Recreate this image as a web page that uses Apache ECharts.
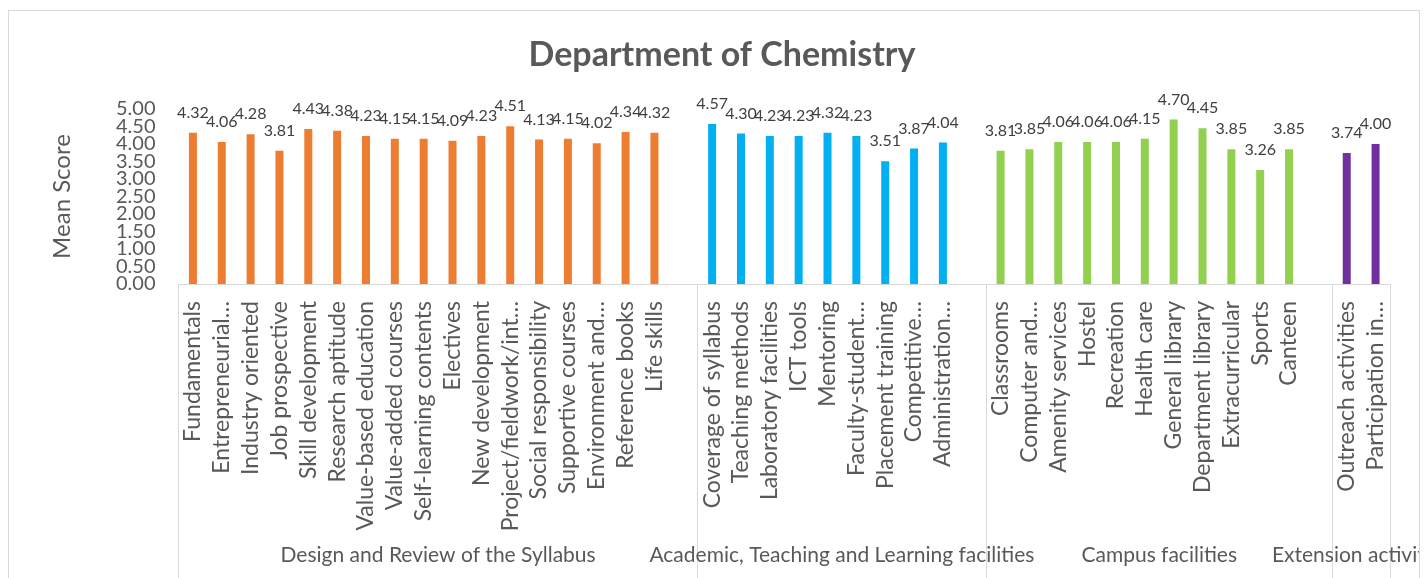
<!DOCTYPE html>
<html>
<head>
<meta charset="utf-8">
<script src="https://cdn.jsdelivr.net/npm/echarts@6/dist/echarts.min.js"></script>
<style>
  html, body { margin: 0; padding: 0; background: #fff; width: 1424px; height: 578px; overflow: hidden; }
  #chart { position: absolute; left: 0; top: 0; width: 1419px; height: 578px; }
  #frame { position: absolute; left: 8px; top: 10px; width: 1410px; height: 600px; border: 1px solid #d9d9d9; pointer-events: none; }
</style>
</head>
<body>
<div id="chart"></div>
<div id="frame"></div>
<script>
const title = 'Department of Chemistry';
const yAxisName = 'Mean Score';
const groupNames = ['Design and Review of the Syllabus', 'Academic, Teaching and Learning facilities', 'Campus facilities', 'Extension activities'];
const groupColors = ['#ED7D31', '#00B0F0', '#92D050', '#7030A0'];

const syllabusItems = ['Fundamentals', 'Entrepreneurial…', 'Industry oriented', 'Job prospective', 'Skill development', 'Research aptitude', 'Value-based education', 'Value-added courses', 'Self-learning contents', 'Electives', 'New development', 'Project/fieldwork/int…', 'Social responsibility', 'Supportive courses', 'Environment and…', 'Reference books', 'Life skills'];
const syllabusValues = [4.32, 4.06, 4.28, 3.81, 4.43, 4.38, 4.23, 4.15, 4.15, 4.09, 4.23, 4.51, 4.13, 4.15, 4.02, 4.34, 4.32];

const academicItems = ['Coverage of syllabus', 'Teaching methods', 'Laboratory facilities', 'ICT tools', 'Mentoring', 'Faculty-student…', 'Placement training', 'Competitive…', 'Administration…'];
const academicValues = [4.57, 4.30, 4.23, 4.23, 4.32, 4.23, 3.51, 3.87, 4.04];

const campusItems = ['Classrooms', 'Computer and…', 'Amenity services', 'Hostel', 'Recreation', 'Health care', 'General library', 'Department library', 'Extracurricular', 'Sports', 'Canteen'];
const campusValues = [3.81, 3.85, 4.06, 4.06, 4.06, 4.15, 4.70, 4.45, 3.85, 3.26, 3.85];

const extensionItems = ['Outreach activities', 'Participation in…'];
const extensionValues = [3.74, 4.00];

const yTicks = [0, 0.5, 1, 1.5, 2, 2.5, 3, 3.5, 4, 4.5, 5];

// Build flat category list with a blank row after each group (except the last)
const groupItems = [syllabusItems, academicItems, campusItems, extensionItems];
const groupValues = [syllabusValues, academicValues, campusValues, extensionValues];
const categories = [];
const seriesData = [];
const boundaries = [0];
const centers = [];
const centerNames = {};
groupItems.forEach((items, g) => {
  const start = categories.length;
  items.forEach((name, i) => {
    categories.push(name);
    seriesData.push({ value: groupValues[g][i], itemStyle: { color: groupColors[g] } });
  });
  if (g < groupItems.length - 1) {
    categories.push('');
    seriesData.push({ value: null });
  }
  const end = categories.length;
  boundaries.push(end);
  const c = (start + end) / 2;
  centers.push(c);
  centerNames[c] = groupNames[g];
});

// Tick labels are tightly packed; split them over two overlapping axes so none get hidden
const yTicksA = yTicks.filter((_, i) => i % 2 === 0);
const yTicksB = yTicks.filter((_, i) => i % 2 === 1);
const yMin = yTicks[0], yMax = yTicks[yTicks.length - 1];

const chart = echarts.init(document.getElementById('chart'), null, { renderer: 'canvas' });
const textColor = '#595959';
const font = 'Lato';

function yAxisDef(values, withName) {
  return {
    type: 'value',
    position: 'left',
    min: yMin, max: yMax, interval: yTicks[1] - yTicks[0],
    name: withName ? yAxisName : '', nameLocation: 'middle', nameGap: 104,
    nameTextStyle: { fontFamily: font, fontSize: 24, color: textColor },
    axisLine: { show: false },
    axisTick: { show: false },
    splitLine: { show: false },
    axisLabel: {
      margin: 23, fontFamily: font, fontSize: 20, color: textColor,
      customValues: values, showMinLabel: true, showMaxLabel: true,
      formatter: v => Number(v).toFixed(2)
    }
  };
}

chart.setOption({
  animation: false,
  backgroundColor: '#fff',
  title: {
    text: title,
    left: 717, top: 33, textAlign: 'center',
    textStyle: { fontFamily: font, fontSize: 34, fontWeight: 'bold', color: textColor }
  },
  grid: { left: 178.5, right: 29, top: 109, bottom: 294, containLabel: false, outerBoundsMode: 'none' },
  xAxis: [
    {
      type: 'category',
      data: categories,
      position: 'bottom',
      axisLine: { show: true, lineStyle: { color: '#d9d9d9', width: 1 } },
      axisTick: { show: false },
      axisLabel: {
        interval: 0, rotate: 90, margin: 17, hideOverlap: false,
        fontFamily: font, fontSize: 23, color: textColor
      },
      splitLine: { show: false }
    },
    {
      type: 'value',
      min: 0, max: categories.length,
      position: 'bottom',
      axisLine: { show: false },
      splitLine: { show: false },
      axisTick: {
        show: true, customValues: boundaries, length: 310, inside: false,
        lineStyle: { color: '#d9d9d9', width: 1 }
      },
      axisLabel: {
        show: true, customValues: centers, margin: 261, hideOverlap: false,
        fontFamily: font, fontSize: 21, color: textColor,
        formatter: v => centerNames[v] || ''
      }
    }
  ],
  yAxis: [yAxisDef(yTicksA, true), yAxisDef(yTicksB, false)],
  series: [{
    type: 'bar',
    xAxisIndex: 0,
    yAxisIndex: 0,
    data: seriesData,
    barWidth: 8,
    label: {
      show: true, position: 'top', distance: 12,
      fontFamily: font, fontSize: 16, color: '#404040',
      formatter: p => (p.value == null ? '' : Number(p.value).toFixed(2))
    }
  }]
});
</script>
</body>
</html>
